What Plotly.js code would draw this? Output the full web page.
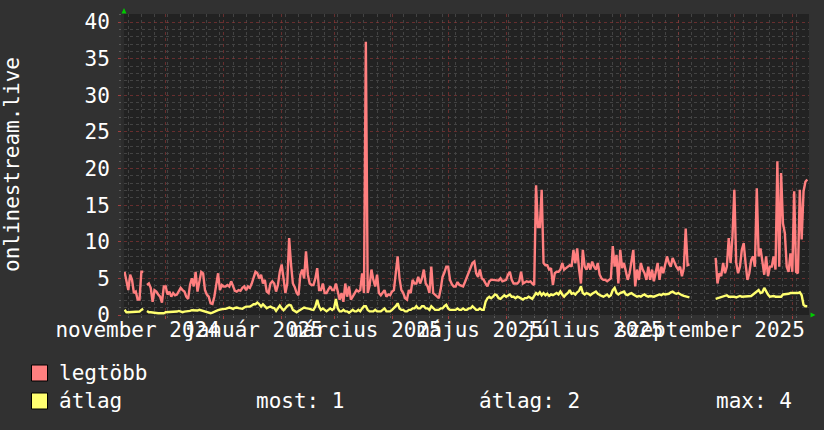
<!DOCTYPE html>
<html><head><meta charset="utf-8">
<script src="https://cdn.plot.ly/plotly-3.0.1.min.js"></script>
<style>html,body{margin:0;padding:0;background:#313131;}</style>
</head><body><div id="chart" style="width:824px;height:430px;"></div>
<script>
// ---- data (one value per day, starting at startDate; null = no data) ----
const startDate = '2024-11-09';
const legtobb = [
 5.9,4.6,3.4,5.5,4.8,3.0,3.2,2.1,2.1,5.9,
 5.9,null,4.1,4.3,3.7,1.8,3.4,3.2,2.8,2.5,
 1.7,3.9,3.9,2.8,3.2,2.5,3.0,2.7,2.8,3.2,
 3.7,3.4,3.2,2.5,2.2,4.1,5.0,3.9,5.9,3.2,
 4.6,5.9,5.7,3.4,2.8,2.5,1.6,1.5,2.5,4.3,
 5.7,3.4,4.1,3.9,3.9,4.1,3.9,4.6,3.8,3.3,
 3.2,3.4,3.3,3.7,3.9,3.4,3.9,3.7,4.3,5.3,
 5.9,5.7,5.0,5.5,4.3,4.8,3.2,3.0,4.3,4.6,
 4.3,3.2,4.1,5.9,6.9,5.0,3.0,4.3,10.5,6.9,
 4.3,3.8,3.0,2.7,5.5,6.2,5.0,8.7,5.5,4.3,
 4.1,4.1,5.0,6.4,3.4,
 3.4,4.3,3.0,3.0,3.5,3.9,3.4,3.4,4.3,3.0,
 2.1,3.0,1.8,4.3,2.5,3.9,2.1,2.5,3.0,3.4,
 3.2,3.4,5.7,3.0,37.3,3.0,4.0,6.2,4.8,3.9,
 5.5,3.0,2.7,3.0,3.4,2.5,2.8,2.7,3.2,3.4,
 5.5,8.0,5.0,3.4,3.0,2.3,2.1,3.4,3.0,4.8,
 4.3,4.3,5.2,4.3,5.0,6.2,4.3,3.9,3.0,6.6,
 3.0,2.8,2.5,2.3,3.5,5.2,5.8,6.6,6.6,4.8,
 4.2,3.9,3.9,4.5,4.1,4.0,3.9,4.5,5.2,5.8,
 6.6,7.1,7.3,5.7,5.2,6.2,5.0,4.8,4.3,3.9,
 4.6,4.8,4.8,4.8,4.8,4.7,5.0,4.6,4.7,4.8,
 5.5,5.9,4.8,4.3,4.3,4.3,4.6,5.9,4.3,4.5,
 4.6,4.5,4.6,4.3,4.1,17.7,12.0,12.0,17.1,7.1,
 6.8,6.8,6.2,6.4,4.1,5.7,5.9,5.9,6.2,7.1,
 6.2,6.4,6.6,6.8,6.6,8.9,7.1,9.1,6.2,4.3,
 8.9,6.6,6.2,7.1,6.2,7.3,6.6,6.2,7.1,5.5,
 5.0,4.8,4.8,4.6,4.8,5.0,9.4,6.6,8.2,4.3,
 8.9,6.4,7.1,5.7,4.8,5.7,7.5,8.9,3.9,6.2,
 4.8,7.1,6.2,5.7,4.8,6.6,4.8,6.2,4.6,5.7,
 7.1,4.8,6.6,5.7,6.8,8.0,7.1,6.6,7.8,7.1,
 6.6,6.2,6.6,5.3,6.4,11.8,6.8,6.9,
 null,null,null,null,null,null,null,null,null,null,null,null,null,
 7.8,4.3,5.7,5.3,7.1,5.7,6.6,10.5,7.1,10.7,
 17.1,7.1,5.7,6.6,8.9,9.8,7.1,4.8,5.7,7.5,
 8.0,6.6,17.3,8.0,9.1,7.1,5.5,8.0,5.3,6.6,
 6.6,8.0,6.2,21.0,6.6,19.4,12.5,11.2,6.6,5.9,
 8.4,5.9,16.9,5.9,5.7,17.1,10.3,16.9,18.2,18.5
];
const atlag = [
 0.70,0.38,0.38,0.38,0.38,0.38,0.38,0.38,0.47,0.70,
 0.84,null,0.56,0.38,0.38,0.33,0.29,0.24,0.24,0.24,
 0.24,0.24,0.38,0.38,0.38,0.38,0.38,0.38,0.47,0.56,
 0.47,0.38,0.47,0.47,0.56,0.56,0.65,0.61,0.56,0.61,
 0.70,0.61,0.56,0.42,0.38,0.29,0.24,0.33,0.47,0.56,
 0.65,0.74,0.84,0.84,0.84,0.93,1.02,0.93,0.84,0.97,
 1.02,0.93,0.88,0.84,1.02,1.15,1.15,1.15,1.29,1.47,
 1.47,1.70,1.47,1.15,1.47,1.20,0.93,1.06,1.15,1.02,
 0.93,0.56,1.02,1.29,0.93,0.65,0.93,1.24,1.38,1.29,
 0.70,0.56,0.38,0.56,0.70,0.93,1.02,0.93,0.93,0.84,
 0.74,0.70,1.15,2.06,1.15,
 0.7,0.9,0.7,0.5,0.7,0.9,0.7,0.9,2.2,0.9,
 0.5,0.5,0.7,0.5,0.5,0.3,0.5,0.7,0.5,0.5,
 0.7,0.5,0.9,1.2,1.2,0.7,0.5,0.5,0.5,0.7,
 0.5,0.5,0.5,0.7,0.9,0.5,0.5,0.5,0.7,0.9,
 1.2,1.6,0.9,0.7,0.7,0.5,0.5,0.7,0.7,0.9,
 0.9,1.2,0.9,0.9,1.2,1.2,0.9,0.9,0.7,1.2,
 0.9,0.7,0.7,0.7,0.9,0.9,1.2,1.4,0.9,0.7,
 0.7,0.7,0.7,0.9,0.7,0.7,0.9,0.7,0.7,0.9,
 0.9,1.2,0.9,0.7,0.7,0.9,0.7,0.7,1.8,2.3,
 2.5,2.3,2.5,2.8,2.7,2.3,2.2,2.5,2.7,2.5,
 2.7,2.8,2.5,2.5,2.3,2.5,2.4,2.3,2.1,2.3,
 2.3,2.5,2.3,2.2,2.6,3.0,2.8,3.1,2.7,3.0,
 2.7,2.9,2.6,2.8,2.7,2.9,3.0,2.8,3.2,2.8,
 2.5,2.8,3.0,3.4,2.9,3.0,2.8,3.1,3.3,3.9,
 3.0,2.8,3.0,2.9,2.7,2.9,3.0,3.2,2.9,2.7,
 2.6,2.5,2.7,2.8,2.5,2.7,3.4,3.7,3.0,2.8,
 3.0,3.1,3.2,2.8,2.7,2.9,3.0,2.8,2.7,2.5,
 2.6,2.5,2.7,2.8,2.6,2.5,2.6,2.5,2.5,2.6,
 2.7,2.8,2.7,2.9,2.8,2.8,2.9,3.1,3.2,3.0,
 2.9,3.0,2.8,2.7,2.6,2.5,2.4,2.4,
 null,null,null,null,null,null,null,null,null,null,null,null,null,
 2.2,2.3,2.3,2.4,2.5,2.6,2.7,2.5,2.5,2.6,
 2.5,2.4,2.5,2.6,2.5,2.5,2.6,2.5,2.5,2.6,
 2.8,3.0,3.2,3.4,3.0,3.1,3.7,3.2,2.8,2.5,
 2.6,2.6,2.5,2.5,2.6,2.5,2.8,2.8,2.8,2.9,
 3.0,3.0,3.0,2.9,3.0,3.1,2.7,1.4,1.2,1.2
];
const seriesNames = ['legtöbb', 'átlag'];
const seriesColors = ['#ff7f7f', '#ffff70'];
const statTexts = ['most: 1', 'átlag: 2', 'max: 4'];
const yTitle = 'onlinestream.live';
const monthStarts = ['2024-12-01','2025-01-01','2025-02-01','2025-03-01','2025-04-01','2025-05-01',
  '2025-06-01','2025-07-01','2025-08-01','2025-09-01','2025-10-01','2025-11-01'];
const labelDates = ['2024-11-16','2025-01-17','2025-03-18','2025-05-18','2025-07-18','2025-09-18'];
const labelTexts = ['november 2024','január 2025','március 2025','május 2025','július 2025','szeptember 2025'];

// ---- build dates ----
const t0 = Date.parse(startDate + 'T00:00:00Z');
const dates = legtobb.map((_, i) => new Date(t0 + i * 86400000).toISOString().slice(0, 10));

const W = 824, H = 430, L = 124, R = 15, T = 14, B = 115;
const pw = W - L - R, ph = H - T - B;
const px = x => (x - L) / pw;
const py = y => (H - B - y) / ph;
const FONT = 'DejaVu Sans Mono, monospace';
const xRange = ['2024-11-08 17:00', '2025-11-09 22:00'];

const traces = [
  {x: dates, y: legtobb, name: seriesNames[0], type: 'scatter', mode: 'lines',
   line: {color: seriesColors[0], width: 2.4}, connectgaps: false, hoverinfo: 'skip', xaxis: 'x', yaxis: 'y'},
  {x: dates, y: atlag, name: seriesNames[1], type: 'scatter', mode: 'lines',
   line: {color: seriesColors[1], width: 2.4}, connectgaps: false, hoverinfo: 'skip', xaxis: 'x2', yaxis: 'y'}
];

const majorGrid = 'rgba(150,55,55,0.6)';
const minorGrid = '#434343';

const shapes = [];
// legend swatches
[[365, 0], [393, 1]].forEach(([top, k]) => {
  shapes.push({type: 'rect', xref: 'paper', yref: 'paper',
    x0: px(31.5), x1: px(47.5), y0: py(top), y1: py(top + 16),
    fillcolor: seriesColors[k], line: {color: '#000', width: 1}});
});
// green axis arrows
shapes.push({type: 'path', xref: 'paper', yref: 'paper', fillcolor: '#00cc00', line: {width: 0},
  path: `M ${px(121.5)},${py(13.5)} L ${px(126.5)},${py(13.5)} L ${px(124)},${py(8)} Z`});
shapes.push({type: 'path', xref: 'paper', yref: 'paper', fillcolor: '#00cc00', line: {width: 0},
  path: `M ${px(810.5)},${py(312.5)} L ${px(810.5)},${py(317.5)} L ${px(815.5)},${py(315)} Z`});

const txt = (text, x, y, extra) => Object.assign({text, xref: 'paper', yref: 'paper', x: px(x), y: py(y),
  showarrow: false, xanchor: 'left', yanchor: 'middle', font: {family: FONT, size: 21, color: '#ffffff'}}, extra || {});

const annotations = [
  txt(yTitle, 12, 165, {textangle: -90, xanchor: 'center'}),
  txt(seriesNames[0], 57, 373),
  txt(seriesNames[1], 57, 401),
  txt(statTexts[0], 254, 401),
  txt(statTexts[1], 477, 401),
  txt(statTexts[2], 714, 401)
];

const layout = {
  width: W, height: H,
  margin: {l: L, r: R, t: T, b: B, pad: 0},
  paper_bgcolor: '#313131', plot_bgcolor: '#222222',
  showlegend: false,
  font: {family: FONT, size: 21, color: '#ffffff'},
  xaxis: {type: 'date', range: xRange, tickmode: 'array', tickvals: monthStarts,
    showticklabels: false, showgrid: true, gridcolor: majorGrid, griddash: 'dot', gridwidth: 1,
    ticks: 'outside', ticklen: 3, tickcolor: '#a04040', zeroline: false, showline: false,
    minor: {tickmode: 'linear', tick0: '2024-11-11', dtick: 7 * 86400000, showgrid: true,
      gridcolor: minorGrid, griddash: 'dot', ticks: 'outside', ticklen: 2, tickcolor: '#5a5a5a'}},
  xaxis2: {type: 'date', range: xRange, overlaying: 'x', anchor: 'y', side: 'bottom',
    tickmode: 'array', tickvals: labelDates, ticktext: labelTexts, tickangle: 0, showgrid: false, ticks: '',
    zeroline: false, showline: false, tickfont: {family: FONT, size: 21, color: '#ffffff'}},
  yaxis: {range: [0, 41.1], tickmode: 'linear', tick0: 0, dtick: 5, showgrid: true,
    gridcolor: majorGrid, griddash: 'dot', ticks: 'outside', ticklen: 3, tickcolor: '#a04040',
    zeroline: false, showline: true, linecolor: '#2c2c2c', linewidth: 3, ticklabelstandoff: 4,
    tickfont: {family: FONT, size: 21, color: '#ffffff'},
    minor: {dtick: 1, showgrid: true, gridcolor: minorGrid, griddash: 'dot', ticks: 'outside',
      ticklen: 2, tickcolor: '#5a5a5a'}},
  shapes, annotations
};

Plotly.newPlot('chart', traces, layout, {staticPlot: true, displayModeBar: false});
</script></body></html>
